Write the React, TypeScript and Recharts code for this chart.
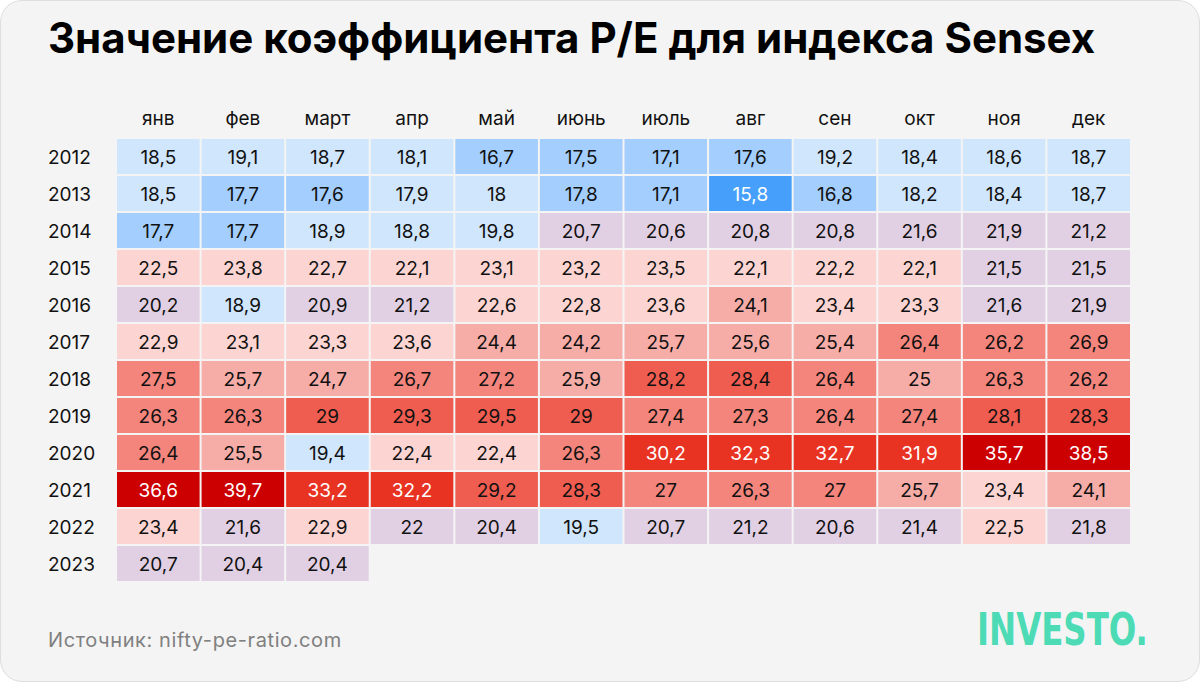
import React from 'react'
import { ScatterChart, Scatter, XAxis, YAxis } from 'recharts'

const months = ['янв', 'фев', 'март', 'апр', 'май', 'июнь', 'июль', 'авг', 'сен', 'окт', 'ноя', 'дек']
const years = ['2012', '2013', '2014', '2015', '2016', '2017', '2018', '2019', '2020', '2021', '2022', '2023']

const pe2012 = [18.5, 19.1, 18.7, 18.1, 16.7, 17.5, 17.1, 17.6, 19.2, 18.4, 18.6, 18.7]
const pe2013 = [18.5, 17.7, 17.6, 17.9, 18, 17.8, 17.1, 15.8, 16.8, 18.2, 18.4, 18.7]
const pe2014 = [17.7, 17.7, 18.9, 18.8, 19.8, 20.7, 20.6, 20.8, 20.8, 21.6, 21.9, 21.2]
const pe2015 = [22.5, 23.8, 22.7, 22.1, 23.1, 23.2, 23.5, 22.1, 22.2, 22.1, 21.5, 21.5]
const pe2016 = [20.2, 18.9, 20.9, 21.2, 22.6, 22.8, 23.6, 24.1, 23.4, 23.3, 21.6, 21.9]
const pe2017 = [22.9, 23.1, 23.3, 23.6, 24.4, 24.2, 25.7, 25.6, 25.4, 26.4, 26.2, 26.9]
const pe2018 = [27.5, 25.7, 24.7, 26.7, 27.2, 25.9, 28.2, 28.4, 26.4, 25, 26.3, 26.2]
const pe2019 = [26.3, 26.3, 29, 29.3, 29.5, 29, 27.4, 27.3, 26.4, 27.4, 28.1, 28.3]
const pe2020 = [26.4, 25.5, 19.4, 22.4, 22.4, 26.3, 30.2, 32.3, 32.7, 31.9, 35.7, 38.5]
const pe2021 = [36.6, 39.7, 33.2, 32.2, 29.2, 28.3, 27, 26.3, 27, 25.7, 23.4, 24.1]
const pe2022 = [23.4, 21.6, 22.9, 22, 20.4, 19.5, 20.7, 21.2, 20.6, 21.4, 22.5, 21.8]
const pe2023 = [20.7, 20.4, 20.4]

const rows = [pe2012, pe2013, pe2014, pe2015, pe2016, pe2017, pe2018, pe2019, pe2020, pe2021, pe2022, pe2023]

const cells = rows.flatMap((vals, r) =>
  vals.map((value, c) => ({ month: months[c], year: years[r], value }))
)

const FONT = 'Inter, "Noto Sans", sans-serif'

// chart box
const W = 1200
const H = 682
const margin = { top: 98, left: 48, right: 69, bottom: 100 }
const X_AXIS_H = 40
const Y_AXIS_W = 68
const plotW = W - margin.left - margin.right - Y_AXIS_W
const plotH = H - margin.top - margin.bottom - X_AXIS_H
const GAP = 2

const colorFor = (v: number) => {
  if (v < 16) return '#46a0fb'
  if (v < 17.85) return '#a3cefd'
  if (v < 20) return '#d0e6fd'
  if (v <= 22) return '#e1cfe3'
  if (v < 24.05) return '#fcd5d3'
  if (v < 26) return '#f6aca7'
  if (v < 28) return '#f3857c'
  if (v < 30) return '#ef5c50'
  if (v < 35) return '#e83323'
  return '#cc0000'
}

const textFor = (v: number) => (v < 16 || v >= 30 ? '#ffffff' : '#111111')

const CellShape = (props: any) => {
  const { cx, cy, payload } = props
  const w = plotW / months.length - GAP
  const h = plotH / years.length - GAP
  const v = payload.value
  return (
    <g>
      <rect x={cx - w / 2} y={cy - h / 2} width={w} height={h} fill={colorFor(v)} />
      <text
        x={cx}
        y={cy + 7}
        textAnchor="middle"
        fontFamily={FONT}
        fontSize={19}
        fill={textFor(v)}
      >
        {String(v).replace('.', ',')}
      </text>
    </g>
  )
}

const MonthTick = (props: any) => {
  const { x, y, payload } = props
  return (
    <text x={x} y={y - 13} textAnchor="middle" fontFamily={FONT} fontSize={19} fill="#111">
      {payload.value}
    </text>
  )
}

const YearTick = (props: any) => {
  const { y, payload } = props
  return (
    <text x={margin.left} y={y + 7} textAnchor="start" fontFamily={FONT} fontSize={19} fill="#111">
      {payload.value}
    </text>
  )
}

export default function App() {
  return (
    <div style={{ position: 'absolute', left: 0, top: 0, width: W, height: H, background: '#ffffff' }}>
      <div
        style={{
          position: 'absolute',
          left: 0,
          top: 0,
          width: W - 2,
          height: H - 2,
          background: '#f4f4f4',
          border: '1px solid #dedede',
          borderRadius: 22,
        }}
      />
      <div
        style={{
          position: 'absolute',
          left: 48,
          top: 12,
          fontFamily: FONT,
          fontWeight: 700,
          fontSize: 42,
          color: '#000',
          whiteSpace: 'nowrap',
          letterSpacing: 0,
        }}
      >
        Значение коэффициента P/E для индекса Sensex
      </div>
      <div style={{ position: 'absolute', left: 0, top: 0 }}>
        <ScatterChart width={W} height={H} margin={margin}>
          <XAxis
            type="category"
            dataKey="month"
            orientation="top"
            allowDuplicatedCategory={false}
            height={X_AXIS_H}
            axisLine={false}
            tickLine={false}
            tickSize={0}
            tickMargin={0}
            tick={<MonthTick />}
            interval={0}
          />
          <YAxis
            type="category"
            dataKey="year"
            allowDuplicatedCategory={false}
            width={Y_AXIS_W}
            reversed
            axisLine={false}
            tickLine={false}
            tickSize={0}
            tickMargin={0}
            tick={<YearTick />}
            interval={0}
          />
          <Scatter data={cells} shape={<CellShape />} isAnimationActive={false} />
        </ScatterChart>
      </div>
      <div
        style={{
          position: 'absolute',
          left: 48,
          top: 628,
          fontFamily: FONT,
          fontSize: 20,
          letterSpacing: 0.6,
          color: '#808080',
          whiteSpace: 'nowrap',
        }}
      >
        Источник: nifty-pe-ratio.com
      </div>
      <div
        style={{
          position: 'absolute',
          left: 977,
          top: 603,
          fontFamily: '"DejaVu Sans Condensed", "Liberation Sans Narrow", sans-serif',
          fontWeight: 700,
          fontSize: 45,
          lineHeight: '54px',
          color: '#4ddbb6',
          whiteSpace: 'nowrap',
          transform: 'scaleX(0.8)',
          transformOrigin: 'left top',
        }}
      >
        INVESTO.
      </div>
    </div>
  )
}
